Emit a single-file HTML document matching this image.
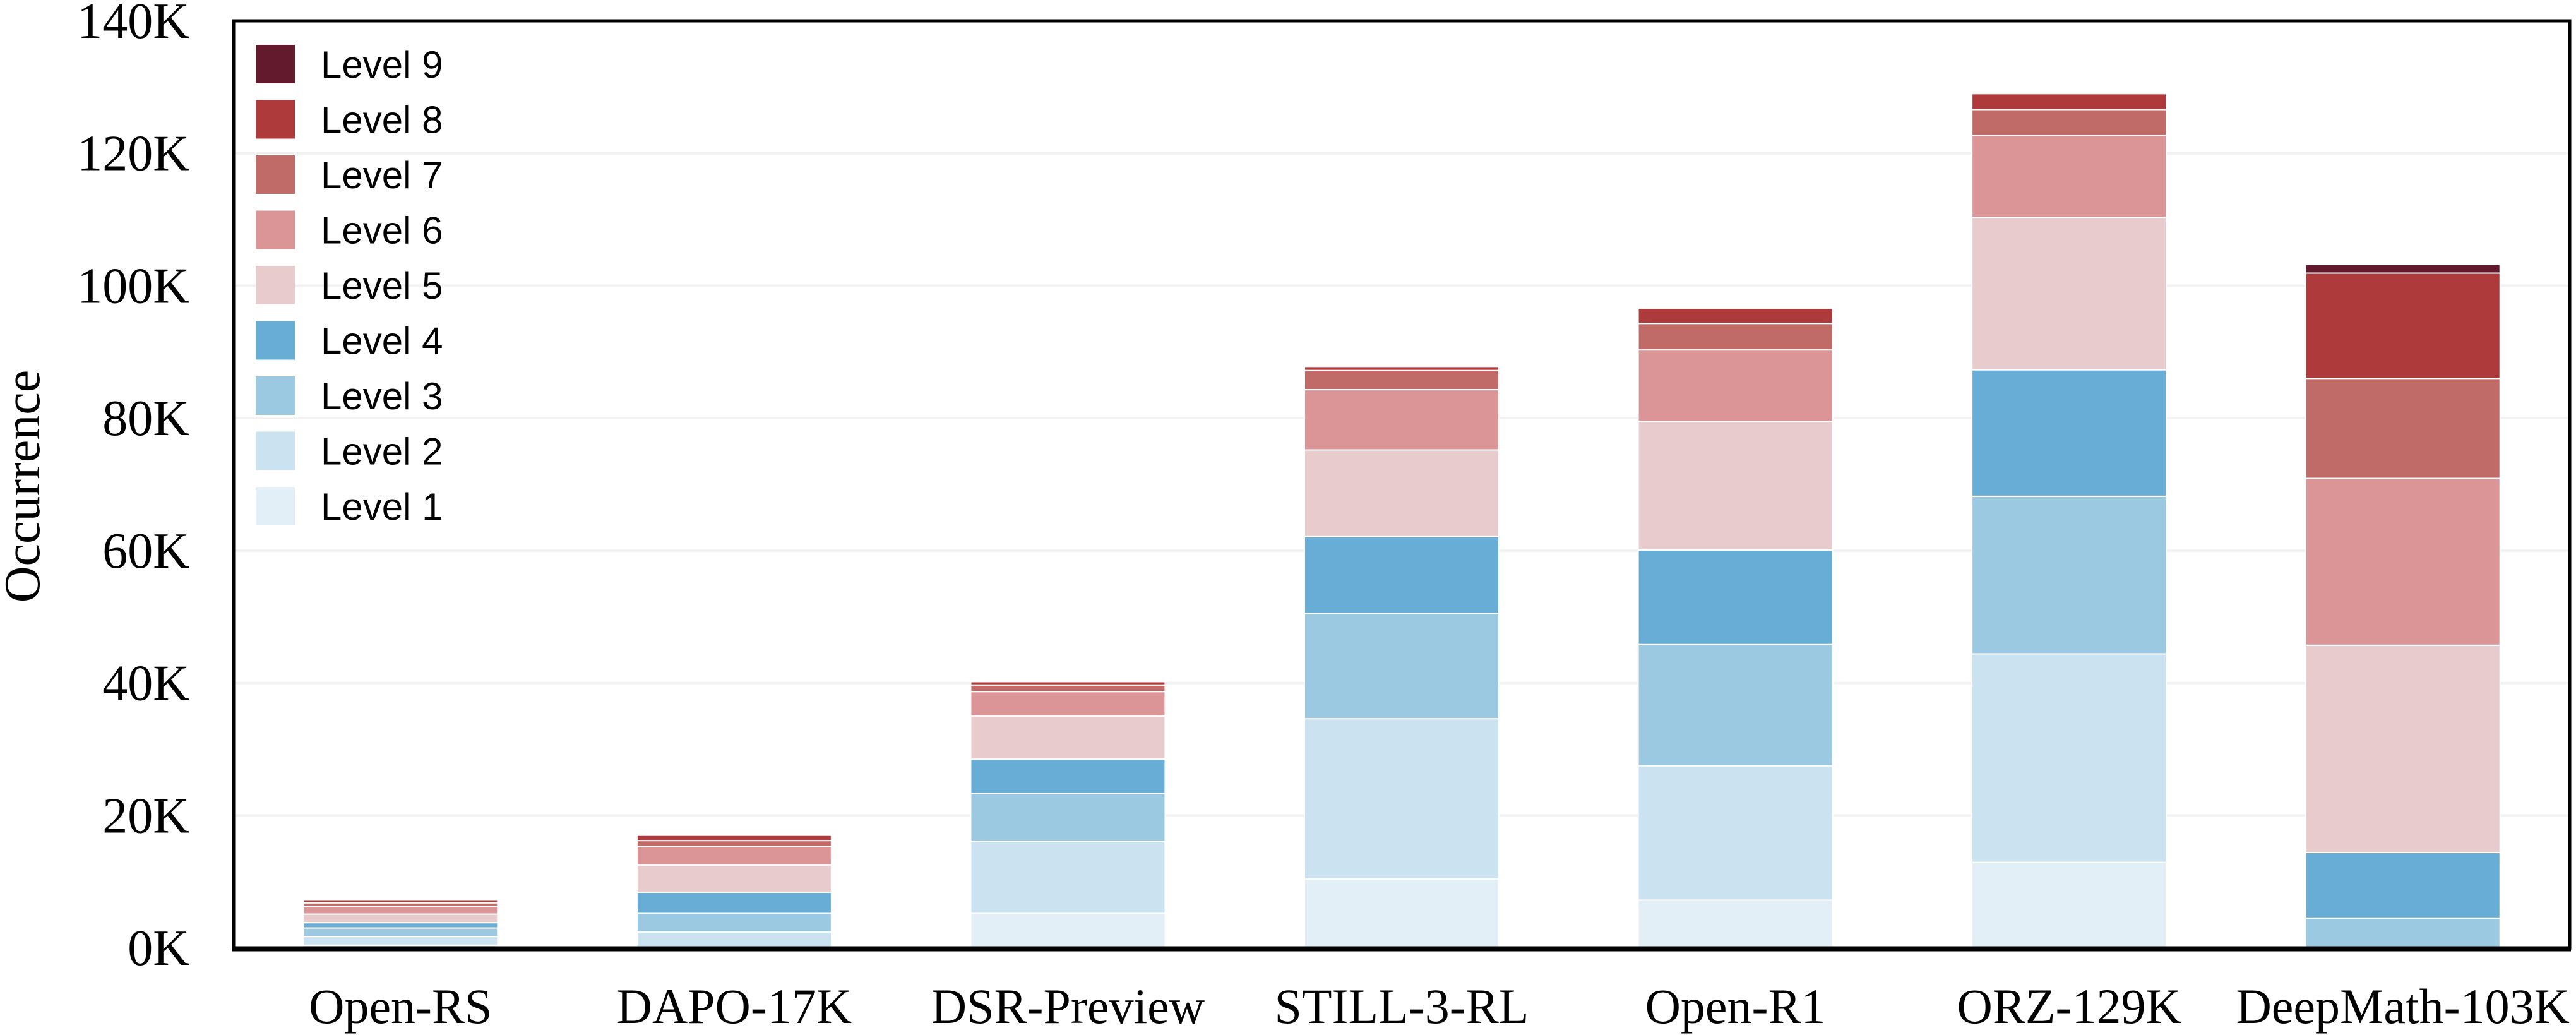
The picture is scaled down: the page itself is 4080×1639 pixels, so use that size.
<!DOCTYPE html>
<html><head><meta charset="utf-8"><style>html,body{margin:0;padding:0;background:#fff}svg{display:block}</style></head>
<body>
<svg id="s" width="4080" height="1639" xmlns="http://www.w3.org/2000/svg"></svg>
<script>
const s=document.getElementById('s');
const NS='http://www.w3.org/2000/svg';
function el(t,a,txt){const e=document.createElementNS(NS,t);for(const k in a)e.setAttribute(k,a[k]);if(txt!==undefined)e.textContent=txt;s.appendChild(e);return e;}
const L=370,R=4070,T=33,B=1501;
const y=v=>B-v*(B-T)/140;
const cols=['#e2eff7','#cbe2f0','#9bc9e2','#68add5','#e8cccd','#dc9597','#c06b68','#ae3a3b','#631a2c'];
// gridlines
for(let v=20;v<=120;v+=20){el('line',{x1:L,x2:R,y1:y(v),y2:y(v),stroke:'#f2f2f2','stroke-width':4});}
// cumulative tops per level 1..9
const data=[
 ['Open-RS',[0.4,1.7,3.0,3.8,5.1,6.3,6.8,7.2,7.2]],
 ['DAPO-17K',[0,2.4,5.2,8.4,12.5,15.3,16.2,17.0,17.0]],
 ['DSR-Preview',[5.2,16.1,23.3,28.5,35.0,38.7,39.7,40.2,40.2]],
 ['STILL-3-RL',[10.4,34.6,50.5,62.1,75.2,84.3,87.2,87.8,87.8]],
 ['Open-R1',[7.2,27.5,45.8,60.1,79.5,90.3,94.3,96.6,96.6]],
 ['ORZ-129K',[12.9,44.4,68.2,87.3,110.3,122.7,126.6,129.0,129.0]],
 ['DeepMath-103K',[0,0,0,4.5,14.4,45.7,70.9,86.0,101.9,103.2]]
];
data.forEach((d,i)=>{
 const cx=L+(i+0.5)*(R-L)/7, w=308;
 let prev=0; const tops=d[1];
 for(let k=0;k<9;k++){
   let top = (i===6)? tops[k+1] : tops[k];
   if(i===6){prev=tops[k];}
   if(top>prev){
     el('rect',{x:cx-w/2,y:y(top),width:w,height:y(prev)-y(top),fill:cols[k],stroke:'#fff','stroke-width':2});
   }
   if(i!==6)prev=top;
 }
 el('text',{x:cx,y:1620,'text-anchor':'middle','font-family':'Liberation Serif, serif','font-size':78},d[0]);
});
// axes box
el('rect',{x:L,y:T,width:R-L,height:B-T,fill:'none',stroke:'#000','stroke-width':5});
el('line',{x1:L-2,x2:R+2,y1:B+2,y2:B+2,stroke:'#000','stroke-width':7});
// y ticks
for(let v=0;v<=140;v+=20){el('text',{x:300,y:y(v)+27,'text-anchor':'end','font-family':'Liberation Serif, serif','font-size':80},v+'K');}
el('text',{x:0,y:0,transform:'translate(62,770) rotate(-90)','text-anchor':'middle','font-family':'Liberation Serif, serif','font-size':80},'Occurrence');
// legend
for(let k=0;k<9;k++){
 const lv=9-k, yy=71+k*87.5;
 el('rect',{x:405,y:yy,width:62,height:61,fill:cols[lv-1]});
 el('text',{x:508,y:yy+52,'font-family':'Liberation Sans, sans-serif','font-size':60},'Level '+lv);
}
</script>
</body></html>
